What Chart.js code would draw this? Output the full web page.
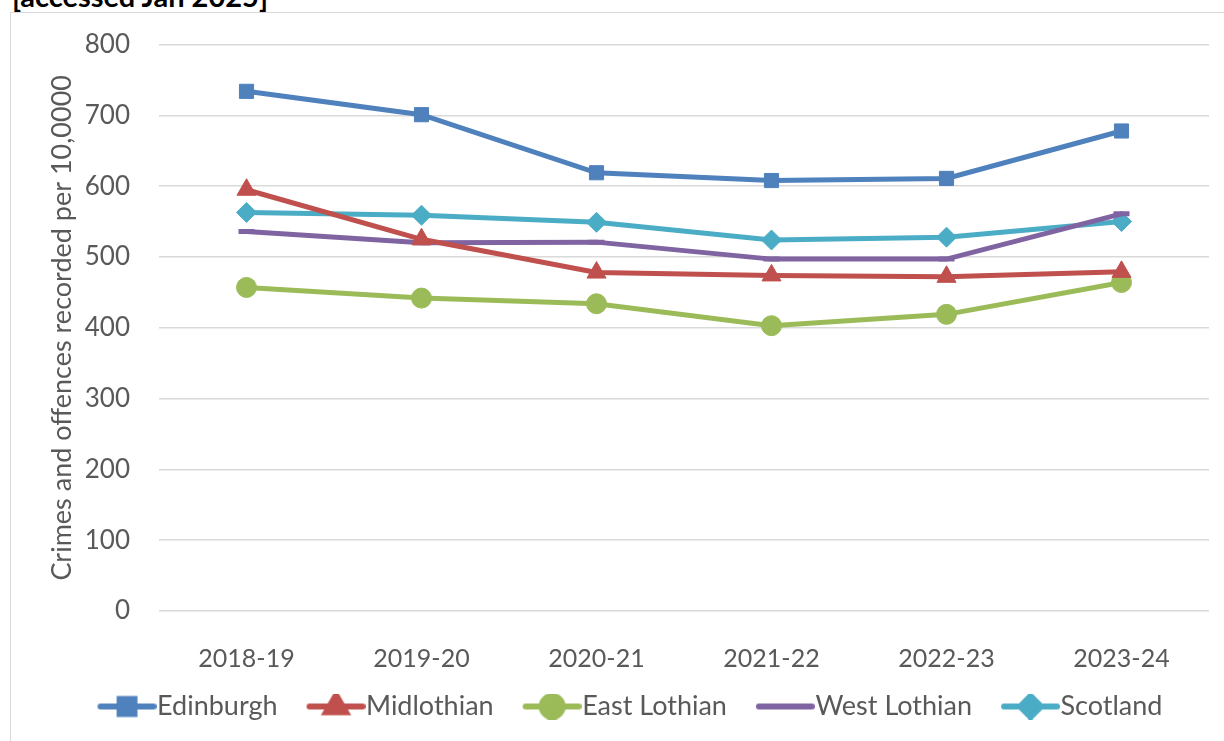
<!DOCTYPE html>
<html>
<head>
<meta charset="utf-8">
<script src="https://cdn.jsdelivr.net/npm/chart.js@4"></script>
<style>
  html, body { margin: 0; padding: 0; background: #fff; }
  body { width: 1224px; height: 741px; position: relative; overflow: hidden; }
  #frame { position: absolute; left: 10px; top: 12px; width: 1230px; height: 760px;
           border: 1.5px solid #d9d9d9; box-sizing: border-box; }
  #note { position: absolute; left: 12px; top: -19px; font: bold 29px Lato, sans-serif;
          color: #000; line-height: 29px; white-space: nowrap; }
  #wrap { position: absolute; left: 0; top: 0; width: 1224px; height: 741px; }
</style>
</head>
<body>
<div id="frame"></div>
<div id="note">[accessed Jan 2025]</div>
<div id="wrap"><canvas id="chart"></canvas></div>
<script>
// values
const years = ['2018-19', '2019-20', '2020-21', '2021-22', '2022-23', '2023-24'];
const edinburgh = [734, 701, 619, 608, 611, 678];
const midlothian = [595, 525, 478, 474, 472, 479];
const eastLothian = [457, 442, 434, 403, 419, 464];
const westLothian = [536, 520, 521, 497, 497, 561];
const scotland = [563, 559, 549, 524, 528, 550];
const yTicks = [0, 100, 200, 300, 400, 500, 600, 700, 800];

const series = [
  { label: 'Edinburgh', data: edinburgh, color: '#4F81BD', style: 'rect', r: 10 },
  { label: 'Midlothian', data: midlothian, color: '#C0504D', style: 'triangle', r: 11 },
  { label: 'East Lothian', data: eastLothian, color: '#9BBB59', style: 'circle', r: 10 },
  { label: 'West Lothian', data: westLothian, color: '#8064A2', style: 'line', r: 8 },
  { label: 'Scotland', data: scotland, color: '#4BACC6', style: 'rectRot', r: 10 }
];

const FONT = 'Lato, sans-serif';
const GREY = '#595959';

// legend swatch: line with the marker in the middle, right-aligned in the image
function legendSwatch(s) {
  const c = document.createElement('canvas');
  c.width = 83; c.height = 26;
  const ctx = c.getContext('2d');
  ctx.strokeStyle = s.color;
  ctx.fillStyle = s.color;
  ctx.lineWidth = 6;
  ctx.lineCap = 'round';
  ctx.beginPath();
  ctx.moveTo(27, 13);
  ctx.lineTo(80, 13);
  ctx.stroke();
  if (s.style !== 'line') {
    Chart.helpers.drawPoint(ctx, { pointStyle: s.style, radius: s.r * 1.05, borderWidth: 1, rotation: 0 }, 53.5, 13);
  }
  return c;
}

const datasets = series.map(s => ({
  label: s.label,
  data: s.data,
  borderColor: s.color,
  backgroundColor: s.color,
  borderWidth: 5,
  pointStyle: s.style,
  pointRadius: s.r,
  pointHoverRadius: s.r,
  pointBackgroundColor: s.color,
  pointBorderColor: s.color,
  pointBorderWidth: s.style === 'line' ? 5 : 1,
  borderCapStyle: 'round',
  tension: 0,
  swatch: legendSwatch(s)
}));

new Chart(document.getElementById('chart'), {
  type: 'line',
  data: { labels: years, datasets: datasets },
  options: {
    responsive: true,
    maintainAspectRatio: false,
    animation: false,
    layout: { padding: { top: 44, left: 40, right: 15, bottom: 11 } },
    plugins: {
      tooltip: { enabled: false },
      legend: {
        position: 'bottom',
        labels: {
          usePointStyle: true,
          pointStyleWidth: 57,
          padding: 18,
          color: GREY,
          font: { family: FONT, size: 27 },
          generateLabels: chart => chart.data.datasets.map((ds, i) => ({
            text: ds.label,
            fillStyle: ds.borderColor,
            strokeStyle: ds.borderColor,
            pointStyle: ds.swatch,
            fontColor: GREY,
            lineWidth: 0,
            hidden: false,
            datasetIndex: i
          }))
        }
      }
    },
    scales: {
      x: {
        offset: true,
        afterFit: axis => { axis.height = 64; },
        grid: { display: false, drawTicks: false },
        border: { display: false },
        ticks: { color: GREY, font: { family: FONT, size: 25 }, padding: 33, maxRotation: 0 }
      },
      y: {
        min: 0,
        max: 800,
        afterBuildTicks: axis => { axis.ticks = yTicks.map(v => ({ value: v })); },
        afterFit: axis => { axis.width = 119; },
        grid: { color: '#d9d9d9', lineWidth: 1.5, drawTicks: false },
        border: { display: false },
        ticks: { color: GREY, font: { family: FONT, size: 26 }, padding: 29 },
        title: {
          display: true,
          text: 'Crimes and offences recorded per 10,0000',
          color: GREY,
          font: { family: FONT, size: 27 },
          padding: { top: 6, bottom: 0 }
        }
      }
    }
  }
});
</script>
</body>
</html>
